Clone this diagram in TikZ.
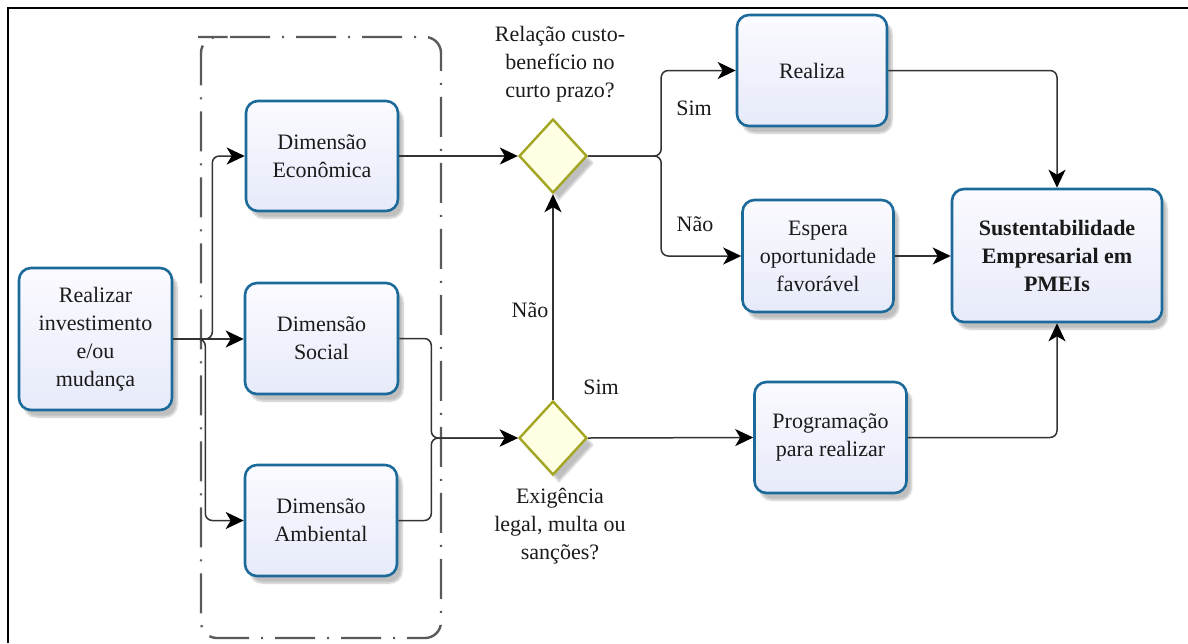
\documentclass[tikz,border=0pt]{standalone}
\usepackage{fontspec}
\setmainfont{Liberation Serif}
\usetikzlibrary{shapes.geometric,arrows.meta,shadows.blur}
\definecolor{boxblue}{HTML}{1B6A9A}
\definecolor{boxfillA}{HTML}{FBFBFF}
\definecolor{boxfillB}{HTML}{E6EAF9}
\definecolor{dolive}{HTML}{A3A523}
\definecolor{dfill}{HTML}{FFFFE4}
\definecolor{lnc}{HTML}{333333}
\definecolor{txt}{HTML}{1A1A1A}
\definecolor{dashc}{HTML}{5A5A5A}
\begin{document}
\begin{tikzpicture}[x=1pt,y=-1pt,
  every node/.style={text=txt, font=\fontsize{22}{28}\selectfont},
  pbox/.style={draw=boxblue, line width=2.6pt, rounded corners=12pt,
    top color=boxfillA, bottom color=boxfillB, align=center,
    blur shadow={shadow xshift=5pt, shadow yshift=-7pt, shadow opacity=25, shadow blur steps=6},
    inner sep=2pt},
  gate/.style={diamond, draw=dolive, line width=2.4pt, fill=dfill, inner sep=0pt,
    minimum width=68pt, minimum height=74pt, aspect=0.92,
    blur shadow={shadow xshift=6pt, shadow yshift=-7pt, shadow opacity=25, shadow blur steps=6}},
  conn/.style={draw=lnc, line width=1.5pt, rounded corners=7pt,
    -{Stealth[length=18pt,width=17pt,inset=5pt,fill=black,color=black]}},
  lbl/.style={align=center, inner sep=0pt}
]
\useasboundingbox (0,0) rectangle (1188,643);
% frame
\draw[line width=1.8pt, black] (8,643) -- (8,8) -- (1188,8);
% dash-dot container
\draw[dashc, line width=2.4pt, dash pattern=on 40pt off 12pt on 2pt off 12pt, rounded corners=16pt]
  (214,37) -- (441,37) -- (441,638) -- (201,638) -- (201,37) -- cycle;

% nodes
\node[pbox, minimum width=153pt, minimum height=142pt] (realizar) at (95.5,339) {Realizar\\investimento\\e/ou\\mudança};
\node[pbox, minimum width=152pt, minimum height=110pt] (econ) at (322,156) {Dimensão\\Econômica};
\node[pbox, minimum width=153pt, minimum height=111pt] (social) at (321.5,338.5) {Dimensão\\Social};
\node[pbox, minimum width=152pt, minimum height=111pt] (amb) at (321,520.5) {Dimensão\\Ambiental};
\node[gate] (d1) at (553,156) {};
\node[gate] (d2) at (553,438) {};
\node[pbox, minimum width=150pt, minimum height=111pt] (realiza) at (812,70.5) {Realiza};
\node[pbox, minimum width=151pt, minimum height=112pt] (espera) at (818,256) {Espera\\oportunidade\\favorável};
\node[pbox, minimum width=210pt, minimum height=133pt] (sust) at (1057,255.5) {\bfseries Sustentabilidade\\\bfseries Empresarial em\\\bfseries PMEIs};
\node[pbox, minimum width=152pt, minimum height=111pt] (prog) at (830.5,437.5) {Programação\\para realizar};

% labels
\node[lbl] (q1) at (560,64) {Relação custo-\\benefício no\\curto prazo?};
\node[lbl] (q2) at (560,526) {Exigência\\legal, multa ou\\sanções?};
\node[lbl] (sim1) at (694,108) {Sim};
\node[lbl] (nao1) at (695,224) {Não};
\node[lbl] (nao2) at (530,310) {Não};
\node[lbl] (sim2) at (601,387) {Sim};

% connectors
\draw[conn] (realizar.east) -- ++(39,0) |- (econ.west);
\draw[conn] (realizar.east) -- (realizar.east -| social.west);
\draw[conn] (realizar.east) -- ++(32,0) |- (amb.west);
\draw[conn] (econ.east) -- (d1.west);
\draw[conn] (social.east) -- ++(32,0) |- (d2.west);
\draw[conn] (amb.east) -- ++(33,0) |- (d2.west);
\draw[conn] (d2.north) -- (d1.south);
\draw[conn] (d2.east) -- (prog.west);
\draw[conn] (d1.east) -- ++(73,0) |- (realiza.west);
\draw[conn] (d1.east) -- ++(73,0) |- (espera.west);
\draw[conn] (realiza.east) -| (sust.north);
\draw[conn] (espera.east) -- (espera.east -| sust.west);
\draw[conn] (prog.east) -| (sust.south);
\end{tikzpicture}
\end{document}
